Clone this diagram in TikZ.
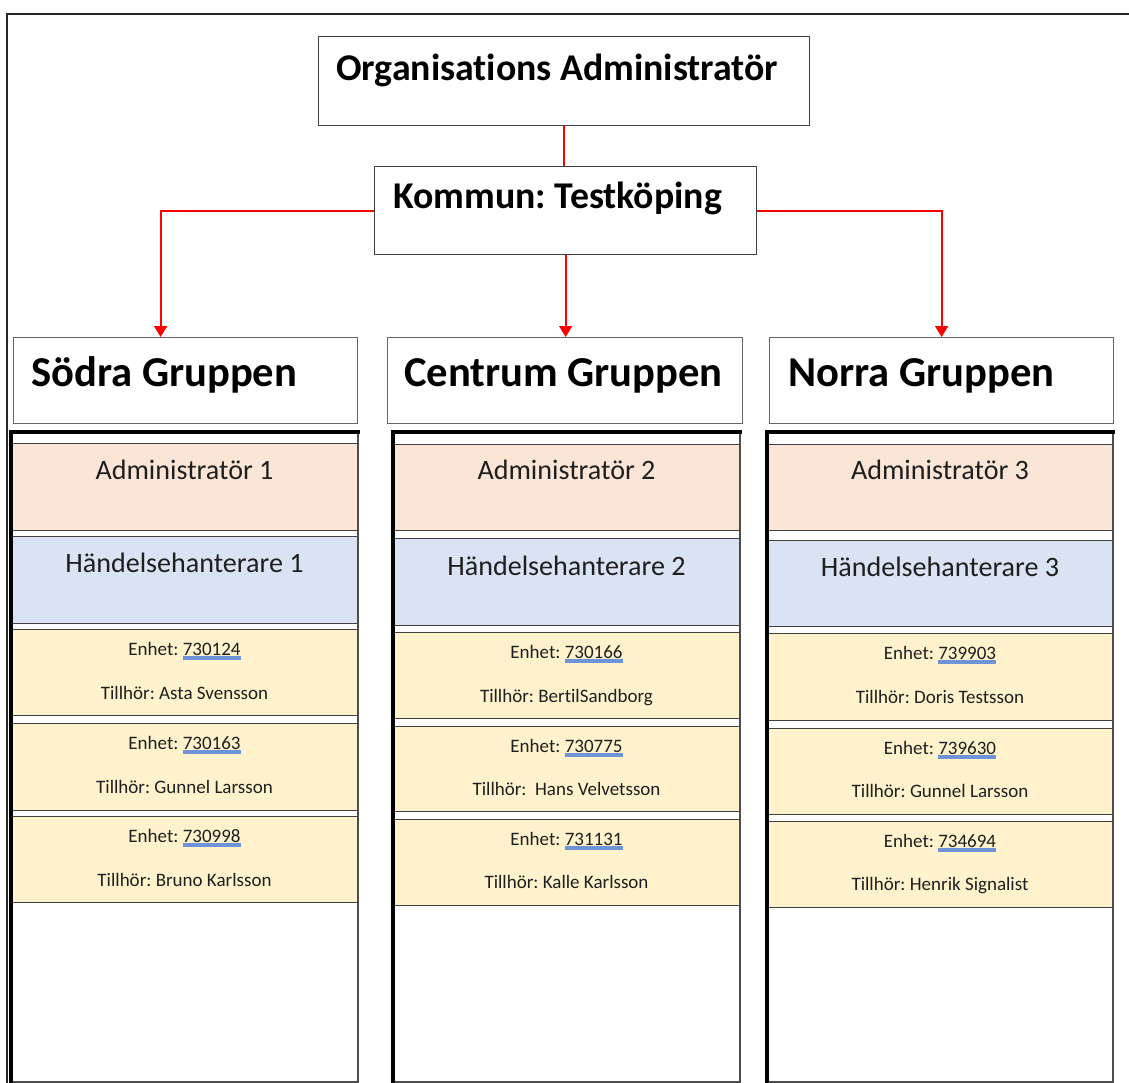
\documentclass[tikz,border=0pt]{standalone}
\usepackage{fontspec}
\setmainfont[Ligatures=NoCommon]{Carlito}
\usetikzlibrary{arrows.meta}
\definecolor{admfill}{HTML}{FBE5D6}
\definecolor{hndfill}{HTML}{DAE3F3}
\definecolor{enhfill}{HTML}{FFF2CC}
\definecolor{ulblue}{HTML}{6E93D6}
\frenchspacing
\newlength\unlen
\newcommand\unum[1]{\settowidth\unlen{#1}\rlap{\textcolor{ulblue}{\rule[-0.24em]{\unlen}{0.17em}}}#1}
\newcommand\pbox[6]{\node[#1, anchor=north west, minimum width={(#4-#2)*1pt}, minimum height={(#5-#3)*1pt}] (#6) at (#2,#3) {};}
\tikzset{
  frameline/.style={draw=black!85, line width=2pt},
  topbox/.style={draw=black!75, line width=1.3pt, fill=white, inner sep=0},
  hdrbox/.style={draw=black!60, line width=1.2pt, fill=white, inner sep=0},
  colbox/.style={draw=none, fill=white, inner sep=0},
  colthick/.style={draw=black, line width=3.2pt, line cap=rect},
  colthin/.style={draw=black!70, line width=2pt},
  admbox/.style={draw=black!75, line width=1.4pt, fill=admfill, inner sep=0},
  hndbox/.style={draw=black!75, line width=1.4pt, fill=hndfill, inner sep=0},
  enhbox/.style={draw=black!75, line width=1.4pt, fill=enhfill, inner sep=0},
  toptxt/.style={font=\bfseries\fontsize{37.8}{42}\selectfont, inner sep=0, anchor=base west},
  grptxt/.style={font=\bfseries\fontsize{42.6}{46}\selectfont, inner sep=0, anchor=base west},
  roletxt/.style={font=\fontsize{28.1}{31}\selectfont, text=black!88, inner sep=0, anchor=base},
  enhtxt/.style={font=\fontsize{19}{21}\selectfont, text=black!88, inner sep=0, anchor=base},
  link/.style={draw=red, line width=2pt},
  arrowlink/.style={link, -{Triangle[width=13pt,length=11pt]}},
}
\begin{document}
\begin{tikzpicture}[x=1pt,y=-1pt]
\useasboundingbox (0,0) rectangle (1129,1083);
% outer frame (only top and left visible)
\coordinate (ftr) at (1135,14);
\coordinate (ftl) at (7,14);
\coordinate (fbl) at (7,1090);
\draw[frameline] (ftr) -- (ftl) -- (fbl);

% top boxes
\pbox{topbox}{318}{36}{809}{125}{org}
\node[toptxt] (orgt) at (336,81) {Organisations Administratör};
\pbox{topbox}{374}{166}{756}{254}{kom}
\node[toptxt] (komt) at (393,209) {Kommun: Testköping};

% group headers
\pbox{hdrbox}{13}{337}{357}{423}{sod}
\node[grptxt] (sodt) at (31,386) {Södra Gruppen};
\pbox{hdrbox}{387}{337}{742}{423}{cen}
\node[grptxt] (cent) at (404,386) {Centrum Gruppen};
\pbox{hdrbox}{769}{337}{1113}{423}{nor}
\node[grptxt] (nort) at (788,386) {Norra Gruppen};

% connectors
\draw[link] (org.south) -- (org.south |- kom.north);
\draw[arrowlink] (kom.west) -| ([xshift=-25pt]sod.north);
\draw[arrowlink] (kom.south) -- (kom.south |- cen.north);
\draw[arrowlink] (kom.east) -| (nor.north);

% columns
\pbox{colbox}{11}{432}{358}{1082}{c1}
\pbox{colbox}{393}{432}{740}{1082}{c2}
\pbox{colbox}{767}{432}{1113}{1082}{c3}

% column 1
\pbox{admbox}{12}{443}{357}{530}{a1}
\node[roletxt] (a1t) at (184.5,479) {Administratör 1};
\pbox{hndbox}{12}{536}{357}{623}{h1}
\node[roletxt] (h1t) at (184.5,572) {Händelsehanterare 1};
\pbox{enhbox}{12}{629}{357}{715}{e11}
\node[enhtxt] (e11a) at (184.5,655) {Enhet: \unum{730124}};
\node[enhtxt] (e11b) at (184.5,699) {Tillhör: Asta Svensson};
\pbox{enhbox}{12}{723}{357}{810}{e12}
\node[enhtxt] (e12a) at (184.5,749) {Enhet: \unum{730163}};
\node[enhtxt] (e12b) at (184.5,793) {Tillhör: Gunnel Larsson};
\pbox{enhbox}{12}{816}{357}{902}{e13}
\node[enhtxt] (e13a) at (184.5,842) {Enhet: \unum{730998}};
\node[enhtxt] (e13b) at (184.5,886) {Tillhör: Bruno Karlsson};

% column 2
\pbox{admbox}{394}{444}{739}{530}{a2}
\node[roletxt] (a2t) at (566.5,479) {Administratör 2};
\pbox{hndbox}{394}{538}{739}{625}{h2}
\node[roletxt] (h2t) at (566.5,575) {Händelsehanterare 2};
\pbox{enhbox}{394}{632}{739}{718}{e21}
\node[enhtxt] (e21a) at (566.5,658) {Enhet: \unum{730166}};
\node[enhtxt] (e21b) at (566.5,702) {Tillhör: BertilSandborg};
\pbox{enhbox}{394}{726}{739}{811}{e22}
\node[enhtxt] (e22a) at (566.5,752) {Enhet: \unum{730775}};
\node[enhtxt] (e22b) at (566.5,795) {Tillhör:\ \ Hans Velvetsson};
\pbox{enhbox}{394}{819}{739}{905}{e23}
\node[enhtxt] (e23a) at (566.5,845) {Enhet: \unum{731131}};
\node[enhtxt] (e23b) at (566.5,888) {Tillhör: Kalle Karlsson};

% column 3
\pbox{admbox}{768}{444}{1112}{530}{a3}
\node[roletxt] (a3t) at (940,479) {Administratör 3};
\pbox{hndbox}{768}{540}{1112}{626}{h3}
\node[roletxt] (h3t) at (940,576) {Händelsehanterare 3};
\pbox{enhbox}{768}{633}{1112}{720}{e31}
\node[enhtxt] (e31a) at (940,659) {Enhet: \unum{739903}};
\node[enhtxt] (e31b) at (940,703) {Tillhör: Doris Testsson};
\pbox{enhbox}{768}{728}{1112}{814}{e32}
\node[enhtxt] (e32a) at (940,754) {Enhet: \unum{739630}};
\node[enhtxt] (e32b) at (940,797) {Tillhör: Gunnel Larsson};
\pbox{enhbox}{768}{821}{1112}{907}{e33}
\node[enhtxt] (e33a) at (940,847) {Enhet: \unum{734694}};
\node[enhtxt] (e33b) at (940,890) {Tillhör: Henrik Signalist};

% column borders on top: thin right and bottom, thick left and top
\foreach \c in {c1,c2,c3}{
  \draw[colthin] (\c.north east) -- (\c.south east) -- (\c.south west);
  \draw[colthick] (\c.south west) -- (\c.north west) -- (\c.north east);
}
\end{tikzpicture}
\end{document}
